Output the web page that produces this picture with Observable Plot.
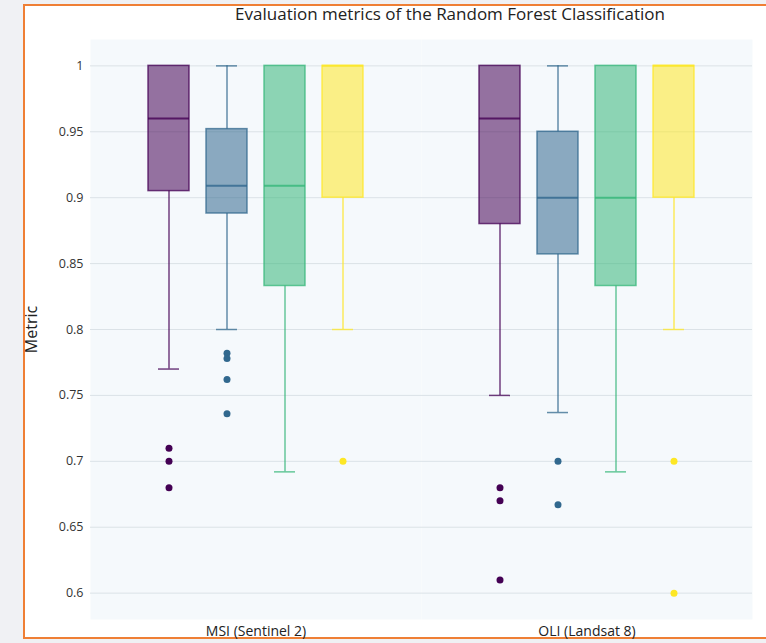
<!DOCTYPE html>
<html>
<head>
<meta charset="utf-8">
<script src="https://cdn.jsdelivr.net/npm/d3@7"></script>
<script src="https://cdn.jsdelivr.net/npm/@observablehq/plot@0.6"></script>
<style>
  html, body { margin: 0; padding: 0; }
  body { width: 766px; height: 643px; background: #f0f1f4; position: relative; overflow: hidden; font-family: "Open Sans", sans-serif; }
  #card { position: absolute; left: 23px; top: 4px; width: 780px; height: 631px; background: #ffffff; border: 2px solid #ef7f35; }
  #title { position: absolute; left: 0; width: 900px; top: 2px; text-align: center; font-size: 17px; color: #222; }
  #chart { position: absolute; left: 0; top: 0; }
</style>
</head>
<body>
<div id="card"></div>
<div id="title">Evaluation metrics of the Random Forest Classification</div>
<div id="chart"></div>
<script>
// Categories
const groups = ["MSI (Sentinel 2)", "OLI (Landsat 8)"];
const series = ["Metric 1", "Metric 2", "Metric 3", "Metric 4"];
const colors = ["#440154", "#31688e", "#35b779", "#fde725"];
const yTicks = [0.6, 0.65, 0.7, 0.75, 0.8, 0.85, 0.9, 0.95, 1];

// Box statistics, MSI (Sentinel 2)
const msiLow  = [0.77, 0.80, 0.692, 0.80];
const msiQ1   = [0.905, 0.888, 0.833, 0.90];
const msiMed  = [0.96, 0.909, 0.909, 1.0];
const msiQ3   = [1.0, 0.952, 1.0, 1.0];
const msiHigh = [1.0, 1.0, 1.0, 1.0];

// Box statistics, OLI (Landsat 8)
const oliLow  = [0.75, 0.737, 0.692, 0.80];
const oliQ1   = [0.88, 0.857, 0.833, 0.90];
const oliMed  = [0.96, 0.90, 0.90, 1.0];
const oliQ3   = [1.0, 0.95, 1.0, 1.0];
const oliHigh = [1.0, 1.0, 1.0, 1.0];

// Outliers (per series)
const msiOutliers = [[0.71, 0.70, 0.68], [0.782, 0.778, 0.762, 0.736], [], [0.70]];
const oliOutliers = [[0.68, 0.67, 0.61], [0.70, 0.667], [], [0.70, 0.60]];

const stats = [
  [groups[0], msiLow, msiQ1, msiMed, msiQ3, msiHigh, msiOutliers],
  [groups[1], oliLow, oliQ1, oliMed, oliQ3, oliHigh, oliOutliers]
];
const rows = [];
const outs = [];
for (const [g, lo, q1, med, q3, hi, ol] of stats) {
  series.forEach((s, i) => {
    rows.push({group: g, series: s, lo: lo[i], q1: q1[i], med: med[i], q3: q3[i], hi: hi[i]});
    ol[i].forEach(v => outs.push({group: g, series: s, value: v}));
  });
}
const upper = rows.filter(d => d.hi > d.q3);

const chart = Plot.plot({
  width: 766,
  height: 643,
  marginLeft: 90,
  marginRight: 14,
  marginTop: 39,
  marginBottom: 24,
  style: {fontFamily: "Open Sans, sans-serif", fontSize: "12.5px", color: "#333", background: "transparent", overflow: "visible"},
  fx: {domain: groups, padding: 0, label: null},
  x: {domain: series, paddingInner: 0.3, paddingOuter: 1.0, axis: null},
  y: {domain: [0.58, 1.02], label: null},
  color: {domain: series, range: colors},
  marks: [
    Plot.frame({fill: "#f5f9fc", stroke: null}),
    Plot.gridY(yTicks, {stroke: "#dbe2e7", strokeOpacity: 1, strokeWidth: 1}),
    Plot.axisY(yTicks, {tickSize: 0, tickPadding: 7, tickFormat: d => String(d), label: null, fontSize: "12.5px"}),
    Plot.axisY(yTicks, {tickSize: 0, tickFormat: () => "", label: "Metric", labelAnchor: "center", labelOffset: 65, labelArrow: "none", fontSize: "16px", fill: "#222"}),
    Plot.axisFx({anchor: "bottom", tickSize: 0, tickPadding: 7, label: null, fontSize: "14px", fill: "#222"}),
    Plot.ruleX(rows, {fx: "group", x: "series", y1: "lo", y2: "q1", stroke: "series", strokeOpacity: 0.75, strokeWidth: 1.5}),
    Plot.ruleX(upper, {fx: "group", x: "series", y1: "q3", y2: "hi", stroke: "series", strokeOpacity: 0.75, strokeWidth: 1.5}),
    Plot.tickY(rows, {fx: "group", x: "series", y: "lo", stroke: "series", strokeOpacity: 0.75, strokeWidth: 1.5, insetLeft: 10, insetRight: 10}),
    Plot.tickY(upper, {fx: "group", x: "series", y: "hi", stroke: "series", strokeOpacity: 0.75, strokeWidth: 1.5, insetLeft: 10, insetRight: 10}),
    Plot.barY(rows, {fx: "group", x: "series", y1: "q1", y2: "q3", fill: "series", fillOpacity: 0.55, stroke: "series", strokeOpacity: 0.75, strokeWidth: 1.5}),
    Plot.tickY(rows, {fx: "group", x: "series", y: "med", stroke: "series", strokeOpacity: 0.8, strokeWidth: 2}),
    Plot.dot(outs, {fx: "group", x: "series", y: "value", fill: "series", r: 3.5})
  ]
});
document.getElementById("chart").appendChild(chart);
</script>
</body>
</html>
